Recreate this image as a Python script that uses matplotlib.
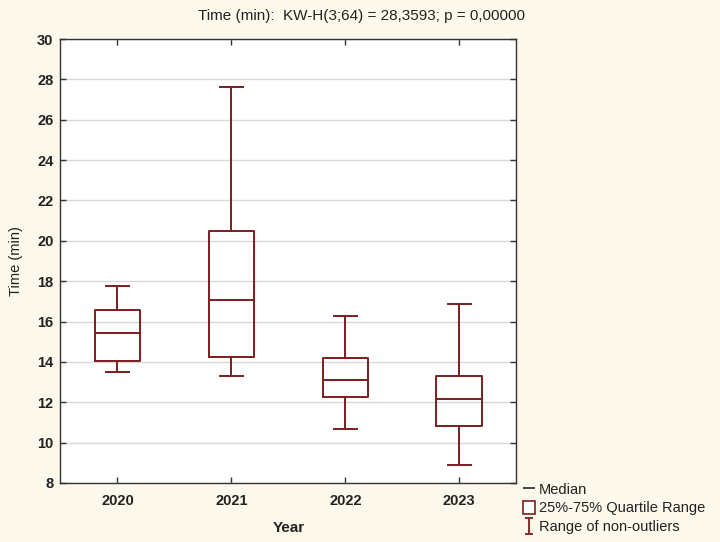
import matplotlib
matplotlib.use('Agg')
import matplotlib.pyplot as plt
from matplotlib.lines import Line2D
from matplotlib.patches import Patch
from matplotlib.path import Path

plt.rcParams['font.family'] = ['Liberation Sans', 'DejaVu Sans']
plt.rcParams['font.size'] = 10

# values
years = ['2020', '2021', '2022', '2023']
whisker_low = [13.48, 13.30, 10.66, 8.89]
q1 = [14.06, 14.24, 12.24, 10.82]
medians = [15.43, 17.08, 13.12, 12.18]
q3 = [16.59, 20.50, 14.18, 13.29]
whisker_high = [17.78, 27.62, 16.26, 16.88]

title = 'Time (min):  KW-H(3;64) = 28,3593; p = 0,00000'
box_color = '#7a1f1f'
bg = '#fdf8ec'

stats = []
for i, y in enumerate(years):
    stats.append({
        'label': y,
        'whislo': whisker_low[i], 'q1': q1[i], 'med': medians[i],
        'q3': q3[i], 'whishi': whisker_high[i], 'fliers': [],
    })

fig = plt.figure(figsize=(7.2, 5.42), dpi=100, facecolor=bg)
ax = fig.add_axes([0.084, 0.109, 0.633, 0.819])
ax.set_facecolor('white')

line_kw = dict(color=box_color, linewidth=1.4)
ax.bxp(stats, positions=range(1, 5), widths=0.4, showfliers=False,
       boxprops=line_kw, whiskerprops=line_kw, capprops=line_kw,
       medianprops=line_kw, capwidths=0.2)

ax.set_xlim(0.5, 4.5)
ax.set_ylim(8, 30)
ax.set_yticks(range(8, 31, 2))
ax.yaxis.grid(True, color='#d9d9d9', linewidth=1.0)
ax.set_axisbelow(True)

ax.tick_params(direction='in', top=True, right=True, length=4, width=1,
               colors='#333333', labelcolor='#222222', labelsize=10.5)
ax.tick_params(axis='x', pad=8)
ax.tick_params(axis='y', pad=5)
for lbl in ax.get_xticklabels() + ax.get_yticklabels():
    lbl.set_fontweight('bold')
for s in ax.spines.values():
    s.set_color('#333333')
    s.set_linewidth(1.0)

ax.set_xlabel('Year', labelpad=9, fontsize=11, fontweight='bold', color='#222222')
ax.set_ylabel('Time (min)', labelpad=10, fontsize=10.5, color='#222222')
fig.suptitle(title, x=0.502, y=0.983, fontsize=11, color='#222222')

# I-beam marker for the whisker range entry
ibeam = Path([(-0.5, -1), (0.5, -1), (0, -1), (0, 1), (-0.5, 1), (0.5, 1)],
             [Path.MOVETO, Path.LINETO, Path.MOVETO, Path.LINETO, Path.MOVETO, Path.LINETO])

handles = [
    Line2D([], [], color='#444444', marker='_', linestyle='none', markersize=9, markeredgewidth=1.4),
    Patch(facecolor='white', edgecolor=box_color, linewidth=1.2),
    Line2D([], [], color=box_color, marker=ibeam, linestyle='none', markersize=11, markeredgewidth=1.3),
]
labels = ['Median', '25%-75% Quartile Range', 'Range of non-outliers']
fig.legend(handles, labels, loc='lower left', bbox_to_anchor=(0.714, -0.002),
           frameon=False, handlelength=0.85, handleheight=1.0, handletextpad=0.25,
           labelspacing=0.3, borderpad=0.1, fontsize=10.5, labelcolor='#222222')

fig.savefig('out.png', dpi=100, facecolor=bg)
